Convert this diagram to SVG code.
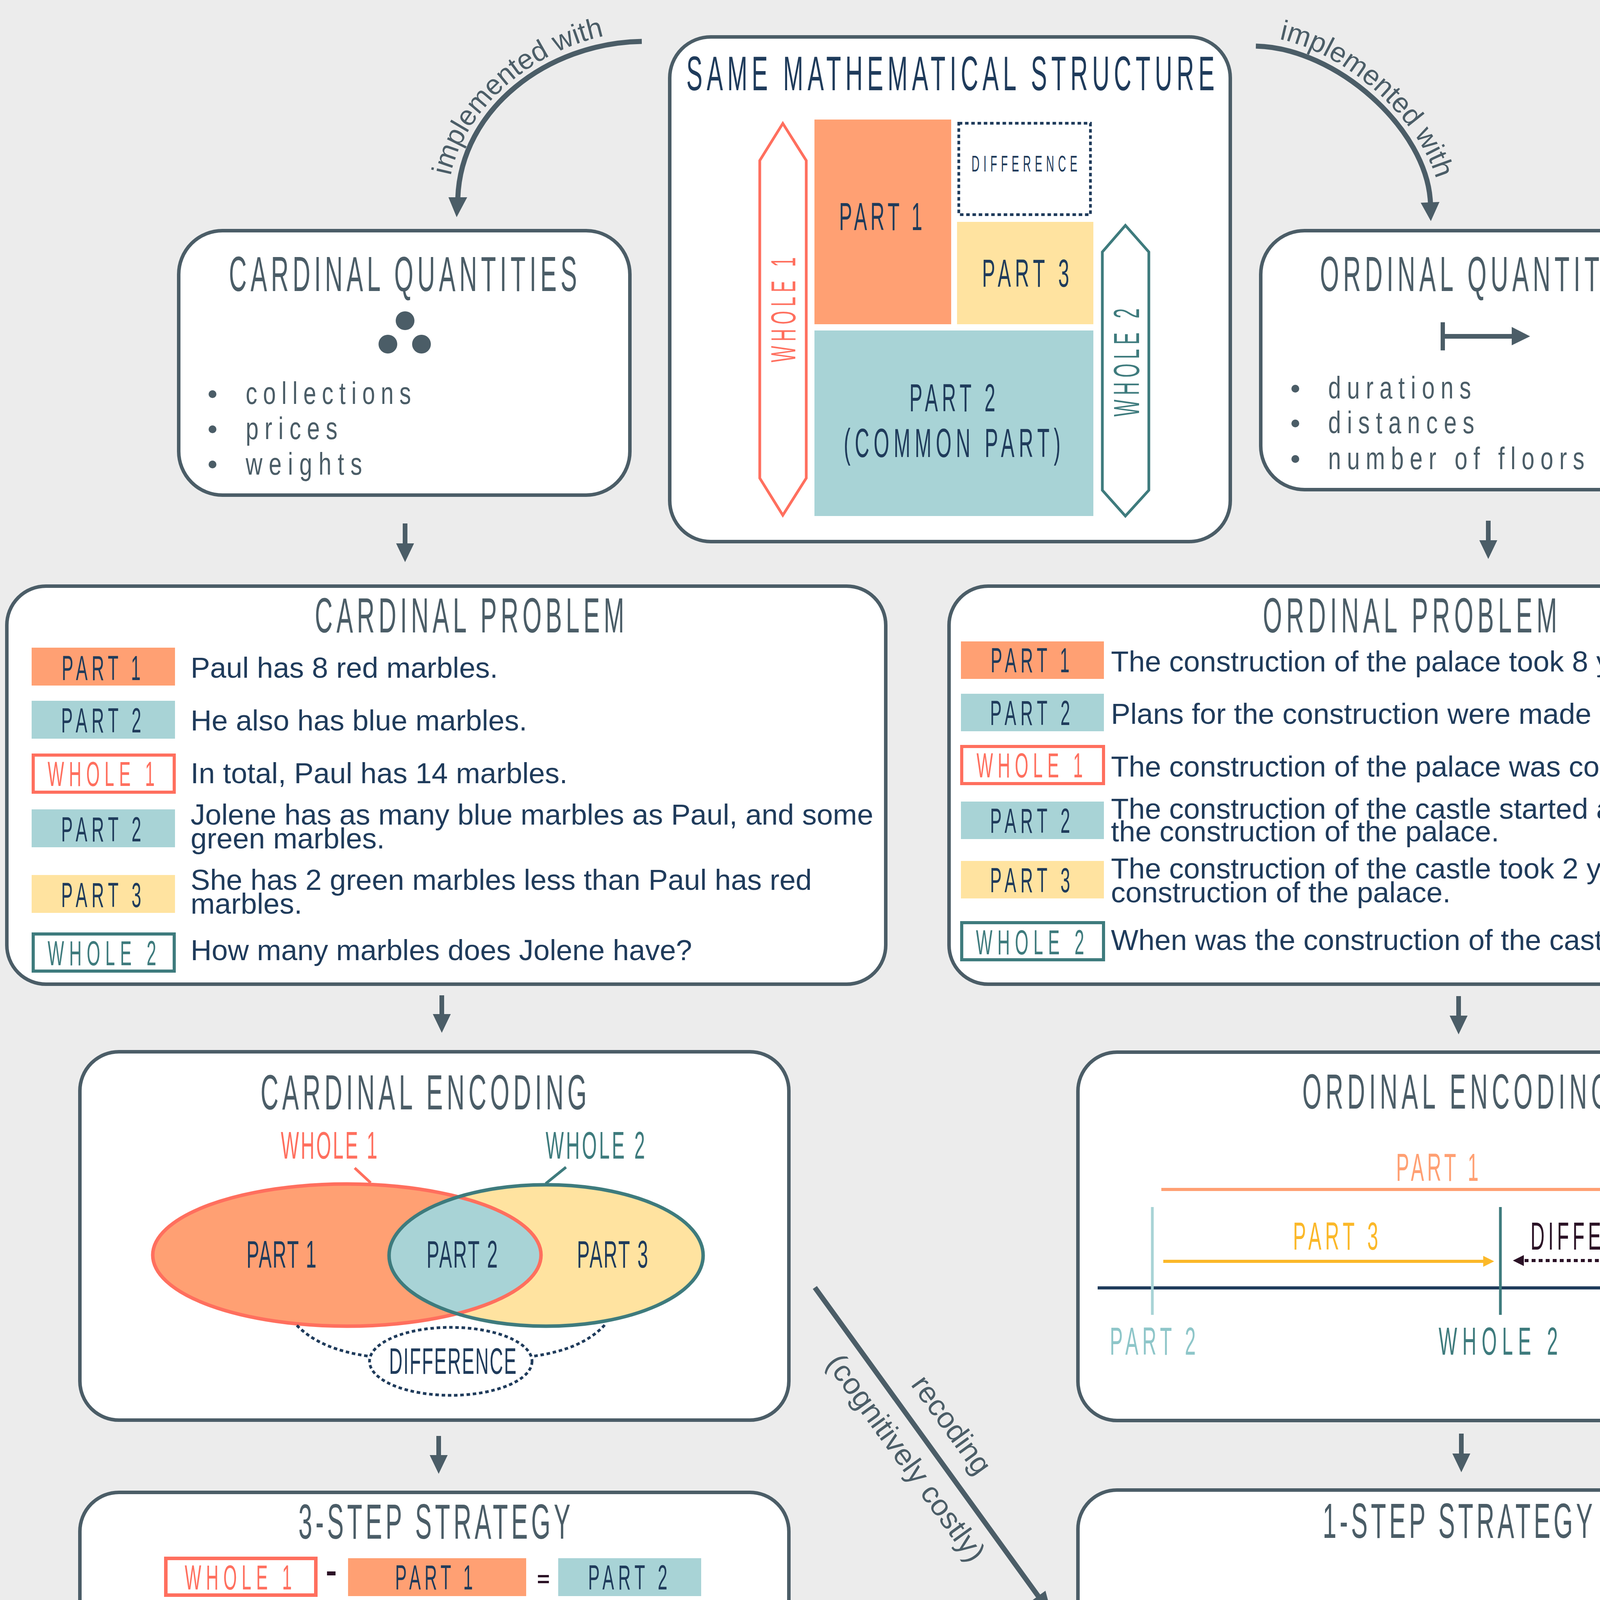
<svg xmlns="http://www.w3.org/2000/svg" width="4728" height="4563" viewBox="0 0 4728 4563">
<style>
text{font-family:"Liberation Sans",Arial,sans-serif}
.box{fill:#fff;stroke:#4b5d67;stroke-width:9}
.hd{font-size:126px;fill:#4b5d67}
.lb{font-size:89px;text-anchor:middle}
.tx{font-size:74.5px;fill:#1f3b5b}
.it{font-size:79px;fill:#4b5d67}
.num{font-size:92px;text-anchor:middle}
.op{font-weight:bold;fill:#2b1226;text-anchor:middle}
.nv{fill:#1f3b5b}.pk{fill:#ff6f5e}.tl{fill:#3e7b7d}.lbl{fill:#8ec6c9}.org{fill:#ffa073}.yel{fill:#fcc84a}
.or{fill:#ffa073}.bl{fill:#a8d3d6}.ye{fill:#ffe3a0}
.w1{fill:#fff;stroke:#ff6f5e;stroke-width:8}
.w2{fill:#fff;stroke:#3e7b7d;stroke-width:8}
.dt{fill:none;stroke:#1f3b5b;stroke-width:7;stroke-dasharray:9 7}
.gr{fill:#4b5d67}
.cn{fill:none;stroke:#4b5d67;stroke-width:13}
.sh{stroke:#4b5d67;stroke-width:12}
.lt{font-size:72px;fill:#4b5d67}
</style>
<defs>
<clipPath id="e1clip"><ellipse cx="888" cy="3213" rx="497" ry="182"/></clipPath>
<path id="tpL" d="M1147,505 C1155,280 1400,85 1643,81"/>
<path id="tpR" d="M3215,93 C3420,97 3680,329 3687,520"/>
</defs>
<rect width="4728" height="4563" fill="#ececec"/>

<g id="connectors">
<path class="cn" d="M1643,106 C1400,110 1180,280 1172,507"/>
<polygon class="gr" points="1148,505 1196,505 1169,556"/>
<text class="lt"><textPath href="#tpL" startOffset="55">implemented with</textPath></text>
<path class="cn" d="M3215,118 C3420,122 3655,330 3662,521"/>
<polygon class="gr" points="3637,519 3685,517 3663,566"/>
<text class="lt"><textPath href="#tpR" startOffset="60">implemented with</textPath></text>
<line class="sh" x1="1037" y1="1340" x2="1037" y2="1395"/>
<polygon class="gr" points="1014,1391 1060,1391 1037,1439"/>
<line class="sh" x1="3810" y1="1333" x2="3810" y2="1387"/>
<polygon class="gr" points="3787,1383 3833,1383 3810,1431"/>
<line class="sh" x1="1131" y1="2548" x2="1131" y2="2600"/>
<polygon class="gr" points="1108,2596 1154,2596 1131,2644"/>
<line class="sh" x1="3734" y1="2550" x2="3734" y2="2604"/>
<polygon class="gr" points="3711,2600 3757,2600 3734,2648"/>
<line class="sh" x1="1123" y1="3676" x2="1123" y2="3729"/>
<polygon class="gr" points="1100,3725 1146,3725 1123,3773"/>
<line class="sh" x1="3741" y1="3670" x2="3741" y2="3725"/>
<polygon class="gr" points="3718,3721 3764,3721 3741,3769"/>
<g transform="translate(2086,3296) rotate(54.1)">
<line x1="0" y1="0" x2="980" y2="0" stroke="#4b5d67" stroke-width="13"/>
<polygon class="gr" points="975,-23 1035,0 975,23"/>
<text x="490" y="-52" font-size="76" fill="#4b5d67" text-anchor="middle" textLength="291" lengthAdjust="spacingAndGlyphs">recoding</text>
<text x="490" y="92" font-size="76" fill="#4b5d67" text-anchor="middle" textLength="634" lengthAdjust="spacingAndGlyphs">(cognitively costly)</text>
</g>
</g>

<g id="same-structure">
<rect class="box" x="1714.5" y="94.5" width="1435" height="1292" rx="105"/>
<text transform="scale(.5,1)" x="3514" y="231" font-size="124" class="nv" textLength="2704" lengthAdjust="spacing">SAME MATHEMATICAL STRUCTURE</text>
<rect class="or" x="2085" y="306" width="350" height="524"/>
<rect class="dt" x="2454.5" y="315.5" width="337" height="234"/>
<rect class="ye" x="2450" y="568" width="349" height="262"/>
<rect class="bl" x="2085" y="846" width="714" height="475"/>
<polygon points="2004,316 2064,411 2064,1224 2004,1319 1945,1224 1945,411" fill="#fff" stroke="#ff6f5e" stroke-width="7"/>
<polygon points="2881,577 2941,645 2941,1255 2881,1321 2822,1255 2822,645" fill="#fff" stroke="#3e7b7d" stroke-width="7"/>
<text transform="scale(.5,1)" x="4296" y="589" font-size="100" class="nv" textLength="426" lengthAdjust="spacing">PART 1</text>
<text transform="scale(.5,1)" x="4974" y="439" font-size="57" class="nv" textLength="542" lengthAdjust="spacing">DIFFERENCE</text>
<text transform="scale(.5,1)" x="5028" y="734" font-size="101" class="nv" textLength="446" lengthAdjust="spacing">PART 3</text>
<text transform="scale(.5,1)" x="4656" y="1053" font-size="100" class="nv" textLength="440" lengthAdjust="spacing">PART 2</text>
<text transform="scale(.5,1)" x="4320" y="1170" font-size="103" class="nv" textLength="1110" lengthAdjust="spacing">(COMMON PART)</text>
<text transform="translate(2036,793) rotate(-90) scale(.5,1)" font-size="89" class="pk" text-anchor="middle" textLength="538" lengthAdjust="spacing">WHOLE 1</text>
<text transform="translate(2916,928) rotate(-90) scale(.5,1)" font-size="92" class="tl" text-anchor="middle" textLength="554" lengthAdjust="spacing">WHOLE 2</text>
</g>

<g id="cardinal-quantities">
<rect class="box" x="457.5" y="590.5" width="1155" height="677" rx="112"/>
<text transform="scale(.5,1)" x="1172" y="745" class="hd" textLength="1782" lengthAdjust="spacing">CARDINAL QUANTITIES</text>
<circle class="gr" cx="1037" cy="821" r="24"/>
<circle class="gr" cx="993" cy="881" r="24"/>
<circle class="gr" cx="1079" cy="881" r="24"/>
<circle class="gr" cx="544" cy="1009" r="10"/>
<circle class="gr" cx="544" cy="1099" r="10"/>
<circle class="gr" cx="544" cy="1189" r="10"/>
<text transform="scale(.75,1)" x="838.7" y="1034" class="it" textLength="564" lengthAdjust="spacing">collections</text>
<text transform="scale(.75,1)" x="838.7" y="1124" class="it" textLength="313" lengthAdjust="spacing">prices</text>
<text transform="scale(.75,1)" x="838.7" y="1215" class="it" textLength="397" lengthAdjust="spacing">weights</text>
</g>

<g id="ordinal-quantities">
<rect class="box" x="3227.5" y="590.5" width="1156" height="663" rx="112"/>
<text transform="scale(.5,1)" x="6758" y="745" class="hd" textLength="1696" lengthAdjust="spacing">ORDINAL QUANTITIES</text>
<rect class="gr" x="3688" y="825" width="11" height="72"/>
<line x1="3698" y1="861" x2="3874" y2="861" stroke="#4b5d67" stroke-width="12"/>
<polygon class="gr" points="3870,837 3917,861 3870,884"/>
<circle class="gr" cx="3316" cy="995" r="10"/>
<circle class="gr" cx="3316" cy="1084" r="10"/>
<circle class="gr" cx="3316" cy="1175" r="10"/>
<text transform="scale(.75,1)" x="4533.3" y="1020" class="it" textLength="488" lengthAdjust="spacing">durations</text>
<text transform="scale(.75,1)" x="4533.3" y="1109" class="it" textLength="499" lengthAdjust="spacing">distances</text>
<text transform="scale(.75,1)" x="4533.3" y="1201" class="it" textLength="875" lengthAdjust="spacing">number of floors</text>
</g>

<g id="cardinal-problem">
<rect class="box" x="17.5" y="1500.5" width="2250" height="1019" rx="100"/>
<text transform="scale(.5,1)" x="1612" y="1619" class="hd" textLength="1584" lengthAdjust="spacing">CARDINAL PROBLEM</text>
<rect class="or" x="81" y="1658" width="367" height="97"/>
<rect class="bl" x="81" y="1794" width="367" height="97"/>
<rect class="w1" x="85" y="1933" width="361" height="95"/>
<rect class="bl" x="81" y="2072" width="367" height="97"/>
<rect class="ye" x="81" y="2240" width="367" height="97"/>
<rect class="w2" x="85" y="2391" width="361" height="95"/>
<text transform="scale(.5,1)" x="518" y="1741" class="lb nv" textLength="404" lengthAdjust="spacing">PART 1</text>
<text transform="scale(.5,1)" x="518" y="1875" class="lb nv" textLength="410" lengthAdjust="spacing">PART 2</text>
<text transform="scale(.5,1)" x="518" y="2012" class="lb pk" textLength="548" lengthAdjust="spacing">WHOLE 1</text>
<text transform="scale(.5,1)" x="518" y="2154" class="lb nv" textLength="410" lengthAdjust="spacing">PART 2</text>
<text transform="scale(.5,1)" x="518" y="2322" class="lb nv" textLength="410" lengthAdjust="spacing">PART 3</text>
<text transform="scale(.5,1)" x="522" y="2471" class="lb tl" textLength="556" lengthAdjust="spacing">WHOLE 2</text>
<text x="488" y="1735" class="tx">Paul has 8 red marbles.</text>
<text x="488" y="1870" class="tx">He also has blue marbles.</text>
<text x="488" y="2005" class="tx">In total, Paul has 14 marbles.</text>
<text x="488" y="2111" class="tx">Jolene has as many blue marbles as Paul, and some</text>
<text x="488" y="2172" class="tx">green marbles.</text>
<text x="488" y="2278" class="tx">She has 2 green marbles less than Paul has red</text>
<text x="488" y="2339" class="tx">marbles.</text>
<text x="488" y="2458" class="tx">How many marbles does Jolene have?</text>
</g>

<g id="ordinal-problem">
<rect class="box" x="2429.5" y="1500.5" width="2370" height="1019" rx="100"/>
<text transform="scale(.5,1)" x="6466" y="1619" class="hd" textLength="1506" lengthAdjust="spacing">ORDINAL PROBLEM</text>
<rect class="or" x="2460" y="1642" width="366" height="96"/>
<rect class="bl" x="2460" y="1776" width="366" height="96"/>
<rect class="w1" x="2462" y="1911" width="363" height="95"/>
<rect class="bl" x="2460" y="2052" width="366" height="96"/>
<rect class="ye" x="2460" y="2204" width="366" height="96"/>
<rect class="w2" x="2462" y="2362" width="363" height="95"/>
<text transform="scale(.5,1)" x="5274" y="1721" class="lb nv" textLength="404" lengthAdjust="spacing">PART 1</text>
<text transform="scale(.5,1)" x="5274" y="1856" class="lb nv" textLength="410" lengthAdjust="spacing">PART 2</text>
<text transform="scale(.5,1)" x="5272" y="1990" class="lb pk" textLength="544" lengthAdjust="spacing">WHOLE 1</text>
<text transform="scale(.5,1)" x="5274" y="2132" class="lb nv" textLength="410" lengthAdjust="spacing">PART 2</text>
<text transform="scale(.5,1)" x="5274" y="2284" class="lb nv" textLength="410" lengthAdjust="spacing">PART 3</text>
<text transform="scale(.5,1)" x="5274" y="2443" class="lb tl" textLength="554" lengthAdjust="spacing">WHOLE 2</text>
<text x="2844" y="1719" class="tx">The construction of the palace took 8 years.</text>
<text x="2844" y="1853" class="tx">Plans for the construction were made beforehand.</text>
<text x="2844" y="1988" class="tx">The construction of the palace was completed in year 14.</text>
<text x="2844" y="2096" class="tx">The construction of the castle started at the same time as</text>
<text x="2844" y="2154" class="tx">the construction of the palace.</text>
<text x="2844" y="2249" class="tx">The construction of the castle took 2 years less than the</text>
<text x="2844" y="2310" class="tx">construction of the palace.</text>
<text x="2844" y="2432" class="tx">When was the construction of the castle completed?</text>
</g>

<g id="cardinal-encoding">
<rect class="box" x="204.5" y="2692.5" width="1815" height="943" rx="100"/>
<text transform="scale(.5,1)" x="1334" y="2840" font-size="127" fill="#4b5d67" textLength="1670" lengthAdjust="spacing">CARDINAL ENCODING</text>
<text transform="scale(.5,1)" x="1438" y="2966" font-size="98" class="pk" textLength="494" lengthAdjust="spacing">WHOLE 1</text>
<text transform="scale(.5,1)" x="2794" y="2966" font-size="98" class="tl" textLength="508" lengthAdjust="spacing">WHOLE 2</text>
<line x1="908" y1="2990" x2="949" y2="3028" stroke="#ff6f5e" stroke-width="7"/>
<line x1="1449" y1="2988" x2="1397" y2="3030" stroke="#3e7b7d" stroke-width="7"/>
<ellipse cx="888" cy="3213" rx="497" ry="182" fill="#ffa073"/>
<ellipse cx="1398" cy="3214" rx="402" ry="181" fill="#ffe3a0"/>
<ellipse cx="1398" cy="3214" rx="402" ry="181" fill="#a8d3d6" clip-path="url(#e1clip)"/>
<ellipse cx="888" cy="3213" rx="497" ry="182" fill="none" stroke="#ff6f5e" stroke-width="9"/>
<ellipse cx="1398" cy="3214" rx="402" ry="181" fill="none" stroke="#3e7b7d" stroke-width="9"/>
<text transform="scale(.5,1)" x="1262" y="3245" font-size="98" class="nv" textLength="358" lengthAdjust="spacing">PART 1</text>
<text transform="scale(.5,1)" x="2184" y="3245" font-size="98" class="nv" textLength="364" lengthAdjust="spacing">PART 2</text>
<text transform="scale(.5,1)" x="2954" y="3245" font-size="98" class="nv" textLength="364" lengthAdjust="spacing">PART 3</text>
<ellipse class="dt" cx="1154" cy="3485" rx="208" ry="87"/>
<path class="dt" d="M760,3393 Q820,3455 945,3472"/>
<path class="dt" d="M1548,3392 Q1490,3455 1364,3472"/>
<text transform="scale(.5,1)" x="1992" y="3517" font-size="95" class="nv" textLength="652" lengthAdjust="spacing">DIFFERENCE</text>
</g>

<g id="ordinal-encoding">
<rect class="box" x="2759.5" y="2693.5" width="1816" height="943" rx="100"/>
<text transform="scale(.5,1)" x="6668" y="2838" class="hd" textLength="1576" lengthAdjust="spacing">ORDINAL ENCODING</text>
<line x1="2810" y1="3297" x2="4515" y2="3297" stroke="#1f3b5b" stroke-width="8"/>
<polygon fill="#1f3b5b" points="4512,3283 4540,3297 4512,3311"/>
<line x1="2973" y1="3045" x2="4350" y2="3045" stroke="#ffa073" stroke-width="8"/>
<polygon fill="#ffa073" points="4346,3031 4374,3045 4346,3059"/>
<line x1="2978" y1="3229" x2="3800" y2="3229" stroke="#fbb829" stroke-width="8"/>
<polygon fill="#fbb829" points="3797,3215 3825,3229 3797,3243"/>
<line x1="2950" y1="3090" x2="2950" y2="3366" stroke="#a8d3d6" stroke-width="7"/>
<line x1="3841" y1="3090" x2="3841" y2="3366" stroke="#3e7b7d" stroke-width="7"/>
<line x1="4385" y1="3090" x2="4385" y2="3366" stroke="#ff6f5e" stroke-width="7"/>
<line x1="3903" y1="3227" x2="4340" y2="3227" stroke="#2b1226" stroke-width="8" stroke-dasharray="10 8"/>
<polygon fill="#2b1226" points="3873,3227 3901,3213 3901,3241"/>
<polygon fill="#2b1226" points="4367,3227 4340,3213 4340,3241"/>
<text transform="scale(.5,1)" x="7148" y="3023" font-size="100" class="org" textLength="422" lengthAdjust="spacing">PART 1</text>
<text transform="scale(.5,1)" x="6620" y="3199" font-size="100" fill="#fbb829" textLength="436" lengthAdjust="spacing">PART 3</text>
<text transform="scale(.5,1)" x="7836" y="3199" font-size="100" fill="#2b1226" textLength="802" lengthAdjust="spacing">DIFFERENCE</text>
<text transform="scale(.5,1)" x="5682" y="3468" font-size="100" class="lbl" textLength="440" lengthAdjust="spacing">PART 2</text>
<text transform="scale(.5,1)" x="7366" y="3468" font-size="100" class="tl" textLength="610" lengthAdjust="spacing">WHOLE 2</text>
<text transform="scale(.5,1)" x="8456" y="3468" font-size="100" class="pk" textLength="592" lengthAdjust="spacing">WHOLE 1</text>
</g>

<g id="three-step-strategy">
<rect class="box" x="204.5" y="3820.5" width="1815" height="900" rx="100"/>
<text transform="scale(.5,1)" x="1528" y="3939" font-size="127" fill="#4b5d67" textLength="1392" lengthAdjust="spacing">3-STEP STRATEGY</text>
<rect x="424.5" y="3989.5" width="384" height="94" fill="#fff" stroke="#ff6f5e" stroke-width="9"/>
<rect class="or" x="891" y="3989" width="456" height="97"/>
<rect class="bl" x="1429" y="3989" width="366" height="97"/>
<rect class="or" x="415" y="4188" width="398" height="97"/>
<rect class="dt" x="894" y="4189" width="449" height="92"/>
<rect class="ye" x="1429" y="4188" width="366" height="97"/>
<rect class="bl" x="415" y="4390" width="398" height="97"/>
<rect class="ye" x="888" y="4390" width="459" height="97"/>
<rect x="1434" y="4391" width="358" height="94" fill="#fff" stroke="#3e7b7d" stroke-width="9"/>
<text x="848" y="4050" font-size="86" class="op">-</text>
<text x="1391" y="4061" font-size="56" class="op">=</text>
<text x="848" y="4249" font-size="86" class="op">-</text>
<text x="1391" y="4259" font-size="56" class="op">=</text>
<text x="854" y="4463" font-size="48" class="op">+</text>
<text x="1391" y="4460" font-size="56" class="op">=</text>
<text transform="scale(.5,1)" x="1220" y="4069" class="lb pk" textLength="548" lengthAdjust="spacing">WHOLE 1</text>
<text transform="scale(.5,1)" x="2222" y="4069" class="lb nv" textLength="398" lengthAdjust="spacing">PART 1</text>
<text transform="scale(.5,1)" x="3214" y="4069" class="lb nv" textLength="406" lengthAdjust="spacing">PART 2</text>
<text transform="scale(.5,1)" x="1220" y="4268" class="lb nv" textLength="396" lengthAdjust="spacing">PART 1</text>
<text transform="scale(.5,1)" x="2232" y="4268" class="lb nv" textLength="732" lengthAdjust="spacing">DIFFERENCE</text>
<text transform="scale(.5,1)" x="3214" y="4268" class="lb nv" textLength="406" lengthAdjust="spacing">PART 3</text>
<text transform="scale(.5,1)" x="1224" y="4471" class="lb nv" textLength="406" lengthAdjust="spacing">PART 2</text>
<text transform="scale(.5,1)" x="2226" y="4471" class="lb nv" textLength="406" lengthAdjust="spacing">PART 3</text>
<text transform="scale(.5,1)" x="3218" y="4471" class="lb tl" textLength="564" lengthAdjust="spacing">WHOLE 2</text>
<text transform="scale(.5,1)" x="1236" y="4163" class="num pk" textLength="136" lengthAdjust="spacing">14</text>
<text transform="scale(.5,1)" x="2216" y="4163" class="num org">8</text>
<text transform="scale(.5,1)" x="3220" y="4163" class="num lbl">6</text>
<text transform="scale(.5,1)" x="1228" y="4363" class="num org">8</text>
<text transform="scale(.5,1)" x="2208" y="4363" class="num nv">2</text>
<text transform="scale(.5,1)" x="3222" y="4363" class="num yel">6</text>
<text transform="scale(.5,1)" x="1208" y="4569" class="num lbl">6</text>
<text transform="scale(.5,1)" x="2200" y="4569" class="num yel">6</text>
<text transform="scale(.5,1)" x="3248" y="4569" class="num tl" textLength="152" lengthAdjust="spacing">12</text>
</g>

<g id="one-step-strategy">
<rect class="box" x="2759.5" y="3814.5" width="1815" height="900" rx="100"/>
<text transform="scale(.5,1)" x="6772" y="3937" font-size="127" fill="#4b5d67" textLength="1382" lengthAdjust="spacing">1-STEP STRATEGY</text>
<rect x="2962.5" y="4158.5" width="383" height="93" fill="#fff" stroke="#ff6f5e" stroke-width="9"/>
<rect x="3457.5" y="4158.5" width="451" height="96" fill="none" stroke="#1f3b5b" stroke-width="9" stroke-dasharray="10 9"/>
<rect x="4004.5" y="4161.5" width="358" height="94" fill="#fff" stroke="#3e7b7d" stroke-width="9"/>
<text x="3397" y="4238" font-size="90" class="op">-</text>
<text x="3955" y="4236" font-size="62" class="op">=</text>
<text transform="scale(.5,1)" x="6290" y="4238" class="lb pk" textLength="546" lengthAdjust="spacing">WHOLE 1</text>
<text transform="scale(.5,1)" x="7362" y="4238" class="lb nv" textLength="734" lengthAdjust="spacing">DIFFERENCE</text>
<text transform="scale(.5,1)" x="8358" y="4238" class="lb tl" textLength="560" lengthAdjust="spacing">WHOLE 2</text>
<text transform="scale(.5,1)" x="6346" y="4366" class="num pk" textLength="134" lengthAdjust="spacing">14</text>
<text transform="scale(.5,1)" x="7408" y="4375" class="num nv">2</text>
<text transform="scale(.5,1)" x="8386" y="4366" class="num tl" textLength="142" lengthAdjust="spacing">12</text>
</g>
</svg>
